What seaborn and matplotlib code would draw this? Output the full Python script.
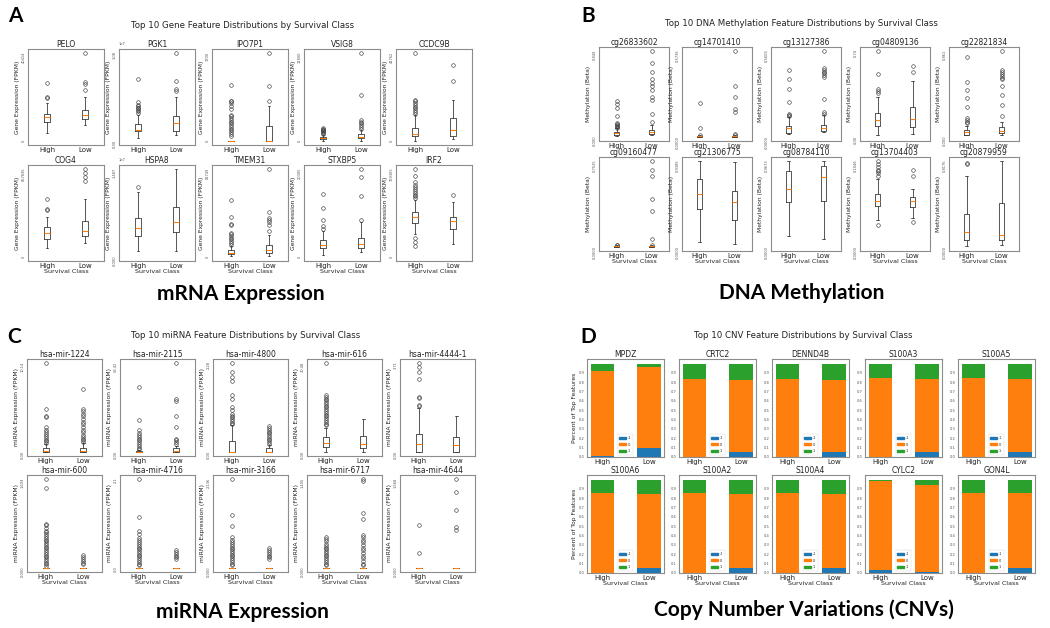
import numpy as np
import pandas as pd
import matplotlib
matplotlib.use("Agg")
import matplotlib.pyplot as plt
import seaborn as sns
from matplotlib.patches import Patch

# ---------------- DATA ----------------
classes = ["High", "Low"]

# Panel A: mRNA expression (values as fraction of each axis' max tick)
gene_names = ["PELO", "PGK1", "IPO7P1", "VSIG8", "CCDC9B",
              "COG4", "HSPA8", "TMEM31", "STXBP5", "IRF2"]
gene_ymax = [40414, 1.08e7, 1700, 11800, 41762, 667835, 1.487e7, 82749, 20305, 769365]
# [whislo, q1, median, q3, whishi]
gene_high_stats = [[0.09, 0.22, 0.27, 0.31, 0.43], [0.04, 0.11, 0.13, 0.19, 0.29],
                   [0, 0, 0, 0, 0], [0.0, 0.02, 0.03, 0.045, 0.07],
                   [0.0, 0.06, 0.08, 0.15, 0.29], [0.10, 0.21, 0.27, 0.34, 0.46],
                   [0.065, 0.24, 0.33, 0.44, 0.74], [0.01, 0.03, 0.045, 0.08, 0.13],
                   [0.02, 0.10, 0.14, 0.19, 0.30], [0.26, 0.39, 0.46, 0.51, 0.65]]
gene_low_stats = [[0.18, 0.25, 0.30, 0.35, 0.50], [0.065, 0.11, 0.20, 0.28, 0.50],
                  [0, 0, 0, 0.17, 0.40], [0.0, 0.03, 0.05, 0.08, 0.13],
                  [0.02, 0.06, 0.13, 0.26, 0.47], [0.16, 0.24, 0.30, 0.41, 0.66],
                  [0.065, 0.28, 0.40, 0.57, 1.0], [0.01, 0.05, 0.08, 0.14, 0.25],
                  [0.06, 0.10, 0.15, 0.22, 0.40], [0.15, 0.32, 0.41, 0.46, 0.63]]
gene_high_fliers = [[0.49, 0.50, 0.66],
                    [0.32, 0.34, 0.35, 0.37, 0.38, 0.40, 0.41, 0.44, 0.70],
                    [0.06, 0.08, 0.10, 0.12, 0.14, 0.16, 0.18, 0.20, 0.22, 0.24, 0.26, 0.28,
                     0.30, 0.36, 0.40, 0.43, 0.45, 0.46, 0.64],
                    [0.08, 0.09, 0.10, 0.11, 0.12, 0.13, 0.14, 0.15],
                    [0.31, 0.33, 0.35, 0.37, 0.39, 0.41, 0.43, 0.45, 0.47, 1.0],
                    [0.53, 0.55, 0.66],
                    [0.79],
                    [0.14, 0.16, 0.18, 0.20, 0.22, 0.24, 0.26, 0.27, 0.36, 0.37, 0.46, 0.65],
                    [0.32, 0.35, 0.42, 0.56, 0.72],
                    [0.13, 0.17, 0.22, 0.67, 0.69, 0.71, 0.73, 0.75, 0.77, 0.79, 0.82, 0.85, 0.92, 1.0]]
gene_low_fliers = [[0.58, 0.65, 0.67, 1.0],
                   [0.57, 0.59, 0.68, 1.0],
                   [0.45, 0.63, 1.0],
                   [0.14, 0.16, 0.18, 0.20, 0.22, 0.24, 0.52, 1.0],
                   [0.68, 0.86],
                   [0.86, 0.91, 0.95, 1.0],
                   [],
                   [0.30, 0.36, 0.40, 0.42, 0.44, 0.51, 1.0],
                   [0.42, 0.69, 0.91, 1.0],
                   [0.71]]

# Panel B: DNA methylation
meth_names = ["cg26833602", "cg14701410", "cg13127386", "cg04809136", "cg22821834",
              "cg09160477", "cg21306775", "cg08784110", "cg13704403", "cg20879959"]
meth_ymax = [0.849, 0.5736, 0.5605, 0.74, 0.8609, 0.7525, 0.9385, 0.9673, 0.1046, 0.8176]
meth_high_stats = [[0.01, 0.03, 0.045, 0.06, 0.10], [0.0, 0.005, 0.008, 0.012, 0.02],
                   [0.04, 0.05, 0.10, 0.125, 0.235], [0.02, 0.125, 0.20, 0.275, 0.47],
                   [0.02, 0.03, 0.06, 0.086, 0.125], [0.0, 0.005, 0.01, 0.012, 0.02],
                   [0.06, 0.44, 0.62, 0.79, 1.0], [0.13, 0.52, 0.67, 0.88, 1.0],
                   [0.32, 0.48, 0.54, 0.62, 0.79], [0.01, 0.08, 0.17, 0.38, 0.82]]
meth_low_stats = [[0.02, 0.04, 0.055, 0.086, 0.14], [0.0, 0.005, 0.008, 0.012, 0.02],
                  [0.06, 0.07, 0.105, 0.145, 0.255], [0.04, 0.12, 0.215, 0.35, 0.65],
                  [0.02, 0.05, 0.07, 0.12, 0.18], [0.0, 0.005, 0.01, 0.012, 0.02],
                  [0.04, 0.31, 0.52, 0.65, 0.99], [0.09, 0.54, 0.81, 0.94, 1.0],
                  [0.34, 0.47, 0.53, 0.58, 0.67], [0.03, 0.08, 0.145, 0.51, 1.0]]
meth_high_fliers = [[0.11, 0.12, 0.13, 0.14, 0.15, 0.16, 0.24, 0.34, 0.38, 0.42],
                    [0.03, 0.10, 0.39],
                    [0.25, 0.26, 0.27, 0.41, 0.56, 0.67, 0.78],
                    [0.51, 0.53, 0.56, 0.73, 1.0],
                    [0.16, 0.18, 0.20, 0.22, 0.35, 0.45, 0.55, 0.64, 0.93],
                    [0.025, 0.03],
                    [],
                    [],
                    [0.26, 0.83, 0.86, 0.88, 0.90, 0.93, 0.96, 1.0],
                    [0.96, 0.97]]
meth_low_fliers = [[0.18, 0.27, 0.43, 0.47, 0.55, 0.59, 0.63, 0.67, 0.76, 0.86, 1.0],
                   [0.03, 0.04, 0.29, 0.33, 0.46, 0.59, 1.0],
                   [0.27, 0.29, 0.44, 0.70, 0.72, 0.74, 0.76, 0.78, 0.80, 1.0],
                   [0.76, 0.83],
                   [0.25, 0.37, 0.49, 0.59, 0.67, 0.69, 0.71, 0.73, 0.75, 0.78, 1.0],
                   [0.03, 0.09, 0.42, 0.56, 0.82, 0.90, 1.0],
                   [],
                   [],
                   [0.29, 0.82, 0.89],
                   []]

# Panel C: miRNA expression
mir_names = ["hsa-mir-1224", "hsa-mir-2115", "hsa-mir-4800", "hsa-mir-616", "hsa-mir-4444-1",
             "hsa-mir-600", "hsa-mir-4716", "hsa-mir-3166", "hsa-mir-6717", "hsa-mir-4644"]
mir_ymax = [10.14, 53.42, 2.28, 30.48, 3.71, 1.609, 2.1, 2.136, 1.405, 1.568]
mir_high_stats = [[0, 0, 0.01, 0.045, 0.09], [0, 0, 0.005, 0.01, 0.02],
                  [0, 0, 0, 0.12, 0.30], [0, 0.06, 0.10, 0.165, 0.27],
                  [0, 0, 0.09, 0.20, 0.49], [0, 0, 0, 0, 0], [0, 0, 0, 0, 0],
                  [0, 0, 0, 0, 0], [0, 0, 0, 0, 0], [0, 0, 0, 0, 0]]
mir_low_stats = [[0, 0, 0.015, 0.05, 0.10], [0, 0, 0.01, 0.05, 0.07],
                 [0, 0, 0, 0.045, 0.08], [0, 0.045, 0.09, 0.185, 0.37],
                 [0, 0, 0.08, 0.17, 0.40], [0, 0, 0, 0, 0], [0, 0, 0, 0, 0],
                 [0, 0, 0, 0, 0], [0, 0, 0, 0, 0], [0, 0, 0, 0, 0]]
mir_high_fliers = [[0.10, 0.12, 0.14, 0.16, 0.18, 0.20, 0.22, 0.25, 0.28, 0.39, 0.41, 0.48, 1.0],
                   [0.03, 0.05, 0.07, 0.09, 0.11, 0.13, 0.15, 0.17, 0.19, 0.21, 0.25, 0.36, 0.73],
                   [0.31, 0.33, 0.35, 0.37, 0.39, 0.41, 0.43, 0.47, 0.50, 0.60, 0.64, 0.80, 0.84,
                    0.90, 1.0],
                   [0.30, 0.32, 0.34, 0.36, 0.38, 0.40, 0.42, 0.44, 0.46, 0.48, 0.50, 0.52, 0.54,
                    0.56, 0.58, 0.60, 0.62, 0.64, 1.0],
                   [0.52, 0.53, 0.61, 0.62, 0.82, 0.90, 0.95, 1.0],
                   [0.02, 0.04, 0.06, 0.08, 0.10, 0.12, 0.14, 0.16, 0.18, 0.20, 0.22, 0.24, 0.26,
                    0.28, 0.30, 0.32, 0.34, 0.36, 0.38, 0.40, 0.42, 0.45, 0.48, 0.50, 0.90, 1.0],
                   [0.03, 0.05, 0.07, 0.09, 0.11, 0.13, 0.15, 0.17, 0.19, 0.21, 0.23, 0.25, 0.27,
                    0.29, 0.31, 0.34, 0.38, 0.42, 0.57, 1.0],
                   [0.03, 0.05, 0.07, 0.09, 0.11, 0.13, 0.15, 0.17, 0.19, 0.21, 0.23, 0.25, 0.27,
                    0.29, 0.31, 0.35, 0.47, 0.60, 1.0],
                   [0.03, 0.05, 0.07, 0.09, 0.11, 0.13, 0.15, 0.17, 0.19, 0.21, 0.23, 0.25, 0.27,
                    0.30, 0.33, 0.35],
                   [0.17, 0.48]]
mir_low_fliers = [[0.11, 0.13, 0.15, 0.17, 0.19, 0.22, 0.25, 0.28, 0.31, 0.34, 0.37, 0.40, 0.43,
                   0.46, 0.48, 0.71],
                  [0.09, 0.11, 0.13, 0.15, 0.28, 0.40, 0.57, 0.59, 1.0],
                  [0.09, 0.11, 0.13, 0.15, 0.17, 0.19, 0.21, 0.23, 0.25, 0.27, 0.29],
                  [],
                  [],
                  [0.04, 0.06, 0.08, 0.10, 0.12, 0.15],
                  [0.10, 0.12, 0.14, 0.16, 0.18, 0.20],
                  [0.10, 0.12, 0.14, 0.16, 0.18, 0.20, 0.22],
                  [0.03, 0.05, 0.08, 0.11, 0.14, 0.17, 0.20, 0.23, 0.26, 0.29, 0.32, 0.35, 0.37,
                   0.55, 0.62, 0.98, 1.0],
                  [0.43, 0.46, 0.65, 0.85, 1.0]]

# Panel D: CNV fractions per class (-1, 0, 1)
cnv_names = ["MPDZ", "CRTC2", "DENND4B", "S100A3", "S100A5",
             "S100A6", "S100A2", "S100A4", "CYLC2", "GON4L"]
cnv_levels = ["-1", "0", "1"]
cnv_high_neg = [0.010, 0.004, 0.004, 0.004, 0.004, 0.004, 0.004, 0.004, 0.036, 0.004]
cnv_high_zero = [0.915, 0.836, 0.836, 0.841, 0.841, 0.851, 0.851, 0.851, 0.953, 0.851]
cnv_high_pos = [0.075, 0.160, 0.160, 0.155, 0.155, 0.145, 0.145, 0.145, 0.011, 0.145]
cnv_low_neg = [0.095, 0.050, 0.050, 0.050, 0.050, 0.055, 0.055, 0.055, 0.010, 0.050]
cnv_low_zero = [0.865, 0.773, 0.775, 0.784, 0.784, 0.789, 0.789, 0.789, 0.935, 0.805]
cnv_low_pos = [0.040, 0.177, 0.175, 0.166, 0.166, 0.156, 0.156, 0.156, 0.055, 0.145]

# ---------------- STYLE ----------------
sns.set_theme(style="white")
plt.rcParams['font.family'] = ['DejaVu Sans']
plt.rcParams['axes.edgecolor'] = '#8c8c8c'
plt.rcParams['axes.linewidth'] = 0.8

W, H = 1050, 628
fig = plt.figure(figsize=(W / 100, H / 100), dpi=100)
fig.patch.set_facecolor('white')

C_BLUE, C_ORANGE, C_GREEN = '#1f77b4', '#ff7f0e', '#2ca02c'
LINE = '#3a3a3a'


def rect(left, top, width, height):
    return [left / W, 1 - (top + height) / H, width / W, height / H]


def box_panel(lefts, width, tops, height, names, ymax, hs, ls, hf, lf, ylabel):
    for i in range(10):
        r, c = divmod(i, 5)
        ax = fig.add_axes(rect(lefts[c], tops[r], width, height))
        m = ymax[i]
        stats = []
        for st, fl, lab in ((hs[i], hf[i], classes[0]), (ls[i], lf[i], classes[1])):
            stats.append(dict(whislo=st[0] * m, q1=st[1] * m, med=st[2] * m,
                              q3=st[3] * m, whishi=st[4] * m,
                              fliers=np.array(fl, dtype=float) * m, label=lab))
        ax.bxp(stats, positions=[1, 2], widths=0.15, showfliers=True,
               boxprops=dict(color=LINE, lw=0.6),
               whiskerprops=dict(color=LINE, lw=0.6),
               capprops=dict(color=LINE, lw=0.6),
               medianprops=dict(color=C_ORANGE, lw=0.8),
               flierprops=dict(marker='o', markerfacecolor='none', markeredgecolor=LINE,
                               markersize=2.6, markeredgewidth=0.45))
        ax.set_xlim(0.5, 2.5)
        ax.set_ylim(-0.045 * m, 1.045 * m)
        ax.set_yticks([0, m])
        ax.tick_params(axis='y', labelrotation=90, labelsize=2.6, length=1, width=0.4,
                       pad=0.8, colors='#555555')
        ax.yaxis.get_offset_text().set_fontsize(2.6)
        ax.tick_params(axis='x', labelsize=5, length=0, pad=1.2, colors='#222222')
        ax.set_title(names[i], fontsize=5.5, pad=1.5, color='#222222')
        ax.set_ylabel(ylabel, fontsize=4.3, labelpad=1, color='#222222')
        if r == 1:
            ax.set_xlabel("Survival Class", fontsize=4.6, labelpad=0.5, color='#222222')
        else:
            ax.set_xlabel("")


def cnv_panel(lefts, width, tops, height):
    for i in range(10):
        r, c = divmod(i, 5)
        ax = fig.add_axes(rect(lefts[c], tops[r], width, height))
        df = pd.DataFrame({"cls": classes,
                           "neg": [cnv_high_neg[i], cnv_low_neg[i]],
                           "zero": [cnv_high_zero[i], cnv_low_zero[i]],
                           "pos": [cnv_high_pos[i], cnv_low_pos[i]]})
        df["c0"] = df["neg"]
        df["c1"] = df["neg"] + df["zero"]
        df["c2"] = df["c1"] + df["pos"]
        for col, colr in (("c2", C_GREEN), ("c1", C_ORANGE), ("c0", C_BLUE)):
            sns.barplot(data=df, x="cls", y=col, color=colr, width=0.5, saturation=1,
                        errorbar=None, linewidth=0, ax=ax)
        ax.set_xlim(-0.325, 1.325)
        ax.set_ylim(0, 1.05)
        ax.set_yticks(np.arange(0, 1.0, 0.1))
        ax.set_yticklabels([f"{v:.1f}" for v in np.arange(0, 1.0, 0.1)])
        ax.tick_params(axis='y', labelsize=2.6, length=1, width=0.4, pad=0.8, colors='#555555')
        ax.tick_params(axis='x', labelsize=5, length=0, pad=1.2, colors='#222222')
        ax.set_title(cnv_names[i], fontsize=5.5, pad=1.5, color='#222222')
        ax.set_ylabel("Percent of Top Features" if c == 0 else "", fontsize=4.3,
                      labelpad=1, color='#222222')
        ax.set_xlabel("Survival Class" if r == 1 else "", fontsize=4.6, labelpad=0.5,
                      color='#222222')
        handles = [Patch(color=C_BLUE, label=cnv_levels[0]),
                   Patch(color=C_ORANGE, label=cnv_levels[1]),
                   Patch(color=C_GREEN, label=cnv_levels[2])]
        leg = ax.legend(handles=handles, loc='lower center', fontsize=2.6, frameon=True,
                        handlelength=1.8, handleheight=0.5, borderpad=0.5, labelspacing=0.7,
                        handletextpad=0.6, borderaxespad=0.6)
        leg.get_frame().set_linewidth(0.3)
        leg.get_frame().set_edgecolor('#cccccc')


box_panel([28, 119, 212, 304, 396], 76, [49, 165], 96, gene_names, gene_ymax,
          gene_high_stats, gene_low_stats, gene_high_fliers, gene_low_fliers,
          "Gene Expression (FPKM)")
box_panel([599, 682, 771, 860, 949], 70, [47, 157], 94, meth_names, meth_ymax,
          meth_high_stats, meth_low_stats, meth_high_fliers, meth_low_fliers,
          "Methylation (Beta)")
box_panel([27, 120, 213, 307, 400], 75, [359, 475], 97, mir_names, mir_ymax,
          mir_high_stats, mir_low_stats, mir_high_fliers, mir_low_fliers,
          "miRNA Expression (FPKM)")
cnv_panel([587, 679, 772, 865, 958], 77, [359, 475], 98)


def ftext(x, y, s, **kw):
    fig.text(x / W, 1 - y / H, s, ha='center', va='center', **kw)


ftext(243, 25, "Top 10 Gene Feature Distributions by Survival Class", fontsize=6.2, color='#222222')
ftext(801, 24, "Top 10 DNA Methylation Feature Distributions by Survival Class", fontsize=6.2, color='#222222')
ftext(246, 335, "Top 10 miRNA Feature Distributions by Survival Class", fontsize=6.2, color='#222222')
ftext(803, 335, "Top 10 CNV Feature Distributions by Survival Class", fontsize=6.2, color='#222222')

big = dict(fontsize=15, fontweight='bold', family=['Lato', 'DejaVu Sans'], color='black')
ftext(15, 16, "A", **big)
ftext(588, 16, "B", **big)
ftext(14, 337, "C", **big)
ftext(588, 337, "D", **big)
ftext(241, 294, "mRNA Expression", **big)
ftext(802, 293, "DNA Methylation", **big)
ftext(242, 612, "miRNA Expression", **big)
ftext(804, 610, "Copy Number Variations (CNVs)", **big)

fig.savefig("out.png", dpi=100, facecolor='white')
